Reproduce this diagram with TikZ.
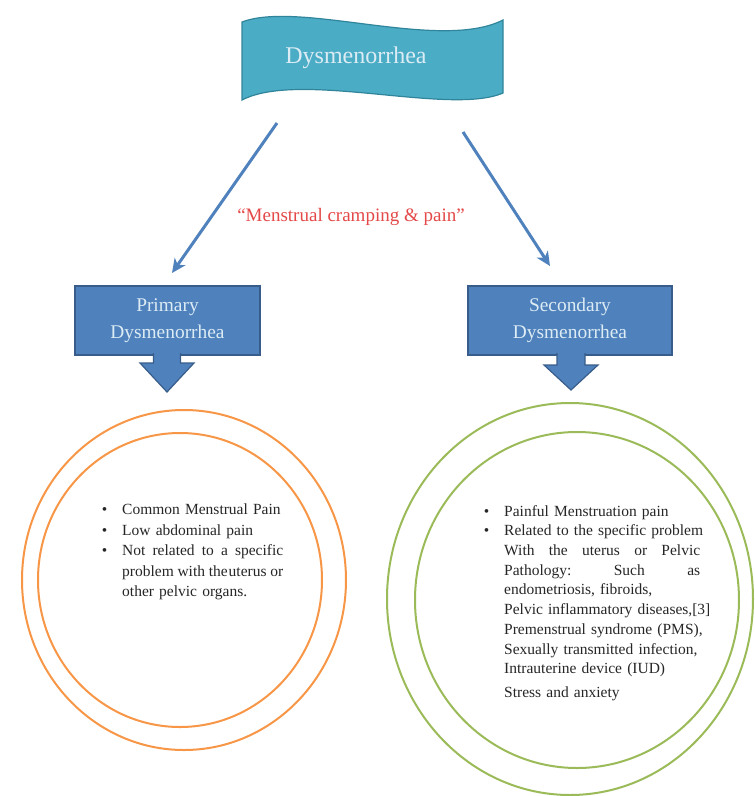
\documentclass[tikz,border=0pt]{standalone}
\usepackage{fontspec}
\setmainfont{Liberation Serif}
\usetikzlibrary{arrows.meta}
\definecolor{aqua}{RGB}{75,172,198}
\definecolor{aquadark}{RGB}{49,133,155}
\definecolor{steel}{RGB}{79,129,189}
\definecolor{steeldark}{RGB}{56,93,138}
\definecolor{paletxt}{RGB}{220,236,244}
\definecolor{ringorange}{RGB}{247,150,70}
\definecolor{ringgreen}{RGB}{155,187,89}
\definecolor{cramp}{RGB}{228,72,72}
\tikzset{
    banner/.style={fill=aqua, draw=aquadark, line width=1.2pt},
    kind/.style={rectangle, fill=steel, draw=steeldark, line width=1.2pt, minimum height=69pt, align=center, text=paletxt, font=\fontsize{19.4}{27}\selectfont},
    blockarrow/.style={fill=steel, draw=steeldark, line width=1.2pt, line join=miter},
    link/.style={-{Stealth[length=14pt, width=13pt, inset=4pt]}, draw=steel, line width=3pt},
    ringo/.style={draw=ringorange, line width=2pt},
    ringg/.style={draw=ringgreen, line width=2pt},
    notes/.style={anchor=north west, inner sep=0pt, align=left, text=black!85},
}
\newcommand{\bul}{\leavevmode\llap{\textbullet\hspace{15pt}}}

\begin{document}
\begin{tikzpicture}[x=1pt, y=-1pt]
    \useasboundingbox (0,0) rectangle (755,796);
    % wavy title
    \draw[banner] (242,22) .. controls (300,0) and (440,52) .. (503,20)
        -- (503,93) .. controls (450,116) and (300,70) .. (242,100) -- cycle;
    \node[text=paletxt, font=\fontsize{24}{28}\selectfont] (dysm) at (356,58) {Dysmenorrhea};
    % the two kinds
    \node[kind, minimum width=185pt] (primary) at (167.5,320.5) {Primary\\Dysmenorrhea};
    \node[kind, minimum width=204pt] (secondary) at (570,320.5) {Secondary\\Dysmenorrhea};
    \draw[blockarrow] (153.5,353) -- (153.5,363) -- (140,363) -- (167,392) -- (194,363) -- (180.5,363) -- (180.5,353);
    \draw[blockarrow] (557,353) -- (557,365) -- (544,365) -- (571,390) -- (598,365) -- (585,365) -- (585,353);
    % links
    \coordinate (ltop) at (277,123);
    \coordinate (lend) at (172,273);
    \coordinate (rtop) at (463,132);
    \coordinate (rend) at (550,266);
    \draw[link] (ltop) -- (lend);
    \draw[link] (rtop) -- (rend);
    \node[text=cramp, font=\fontsize{19}{22}\selectfont] (cramping) at (351,217) {“Menstrual cramping \& pain”};
    % rings
    \draw[ringo] (184,580) ellipse [x radius=162, y radius=170];
    \draw[ringo] (180,580) ellipse [x radius=142, y radius=147];
    \draw[ringg] (570,599) ellipse [x radius=183, y radius=196];
    \draw[ringg] (577,600) ellipse [x radius=162, y radius=168];
    % notes
    \node[notes, text width=170pt, font=\fontsize{15.5}{20.5}\selectfont] (primnotes) at (122,504) {%
        \bul Common Menstrual Pain\\
        \bul Low abdominal pain\\
        \bul\makebox[161pt][s]{Not\hfill related\hfill to\hfill a\hfill specific}\\
        \makebox[161pt][s]{problem\hfill with\hfill the\hspace{1pt}uterus\hfill or}\\
        other pelvic organs.};
    \node[notes, text width=210pt, font=\fontsize{15.5}{19.7}\selectfont] (secnotes) at (504,505) {%
        \bul Painful Menstruation pain\\
        \bul Related to the specific problem\\
        \makebox[196pt][s]{With\hfill the\hfill uterus\hfill or\hfill Pelvic}\\
        \makebox[196pt][s]{Pathology:\hfill Such\hfill as}\\
        endometriosis, fibroids,\\
        Pelvic inflammatory diseases,[3]\\
        Premenstrual syndrome (PMS),\\
        Sexually transmitted infection,\\
        Intrauterine device (IUD)\\[4pt]
        Stress and anxiety};
\end{tikzpicture}
\end{document}
